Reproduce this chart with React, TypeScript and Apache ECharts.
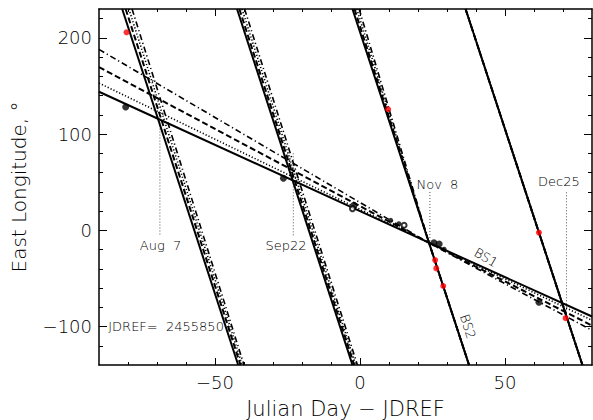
import React, { useEffect, useRef } from "react";
import * as echarts from "echarts";

// Axis extents and tick positions
const X_MIN = -90;
const X_MAX = 80;
const Y_MIN = -140;
const Y_MAX = 230;
const xMajorTicks = [-50, 0, 50];
const xMinorTicks = [-80, -70, -60, -40, -30, -20, -10, 10, 20, 30, 40, 60, 70];
const yMajorTicks = [-100, 0, 100, 200];
const yMinorTicks = [-120, -80, -60, -40, -20, 20, 40, 60, 80, 120, 140, 160, 180, 220];

// BS1: slow drifting tracks, one per fit
const bs1Solid = [[-90, 144], [23.2, -12.1], [80, -89.6]];
const bs1Dotted = [[-90, 153], [23.2, -12.1], [80, -93.5]];
const bs1Dashed = [[-90, 169.6], [23.2, -12.1], [80, -99]];
const bs1DashDot = [[-90, 188], [23.2, -12.1], [80, -104]];

// BS2: fast tracks, wrapping every 360 degrees of longitude
const bs2Solid = [
  [[-82.0, 230], [-42.0, -140]],
  [[-42.4, 230], [-2.6, -140]],
  [[-2.6, 230], [23.7, -12.1], [37.6, -140]],
  [[36.4, 230], [76.7, -140]],
];
const bs2Dashed = [
  [[-80.8, 230], [-41.2, -140]],
  [[-41.6, 230], [-2.0, -140]],
  [[-1.9, 230], [23.7, -12.1], [37.6, -140]],
  [[36.4, 230], [76.7, -140]],
];
const bs2Dotted = [
  [[-79.7, 230], [-40.6, -140]],
  [[-40.7, 230], [-1.5, -140]],
  [[-1.1, 230], [23.7, -12.1], [37.6, -140]],
  [[36.4, 230], [76.7, -140]],
];
const bs2DashDot = [
  [[-78.6, 230], [-40.0, -140]],
  [[-39.8, 230], [-0.9, -140]],
  [[-0.3, 230], [23.7, -12.1], [37.6, -140]],
  [[36.4, 230], [76.7, -140]],
];

// Observed positions
const blackDots = [[-80.8, 128.2], [-26.4, 54.1], [-2.1, 25.9], [25.5, -12.9], [27.3, -14.3], [61.7, -74.8]];
const smallBlackDots = [[10.6, 10.3], [13.4, 6.9], [29.0, -19.6]];
const openCircles = [[-2.6, 22.4], [15.2, 5.2]];
const redDots = [[-80.5, 205.8], [9.7, 125.8], [25.9, -31], [26.3, -39.6], [28.7, -57.9], [61.7, -2.4], [70.9, -91.3]];

// Date markers
const dateNames = ["Aug\u00a0\u00a07", "Sep22", "Nov\u00a0\u00a08", "Dec25"];
const dateDays = [-69.0, -23.0, 24.1, 71.2];
const dateLineTop = [112, 80, 39.8, 39.5];
const dateLineBottom = [-5, -6, -11, -90];
const dateLabelX = [-68.8, -25.5, 26.7, 68.6];
const dateLabelY = [-16.3, -16.3, 47.6, 50.2];

// Free text notes
const noteTexts = ["BS1", "BS2", "JDREF=\u00a0\u00a02455850"];
const notePos = [[43.4, -28.3], [37.2, -100], [-86.8, -99.5]];
const noteRotate = [-30, -72, 0];
const noteAlign = ["center", "center", "left"];

const FONT = '"DejaVu Sans", "Liberation Sans", sans-serif';
const WEIGHT = 200;

const STYLES: Record<string, any> = {
  solid: { type: "solid", width: 2 },
  dashed: { type: [6, 3], width: 2 },
  dotted: { type: [1.2, 2], width: 1.6 },
  dashdot: { type: [6, 3, 1.2, 3], width: 1.6 },
};

const fmt = (v: number) => String(v).replace("-", "\u2212");

function lineSeries(name: string, data: number[][], style: any) {
  return {
    name,
    type: "line",
    data,
    symbol: "none",
    silent: true,
    clip: true,
    lineStyle: { color: "#000", ...style },
    z: 2,
  };
}

export default function App() {
  const ref = useRef<HTMLDivElement>(null);

  useEffect(() => {
    if (!ref.current) return;
    const chart = echarts.init(ref.current, undefined, { renderer: "svg" });

    const series: any[] = [];
    series.push(lineSeries("BS1 solid", bs1Solid, STYLES.solid));
    series.push(lineSeries("BS1 dotted", bs1Dotted, STYLES.dotted));
    series.push(lineSeries("BS1 dashed", bs1Dashed, STYLES.dashed));
    series.push(lineSeries("BS1 dash-dot", bs1DashDot, STYLES.dashdot));
    bs2Solid.forEach((d, i) => series.push(lineSeries("BS2 solid " + i, d, STYLES.solid)));
    bs2Dashed.forEach((d, i) => series.push(lineSeries("BS2 dashed " + i, d, STYLES.dashed)));
    bs2Dotted.forEach((d, i) => series.push(lineSeries("BS2 dotted " + i, d, STYLES.dotted)));
    bs2DashDot.forEach((d, i) => series.push(lineSeries("BS2 dash-dot " + i, d, STYLES.dashdot)));

    dateDays.forEach((day, i) => {
      series.push({
        name: "date " + i,
        type: "line",
        data: [[day, dateLineTop[i]], [day, dateLineBottom[i]]],
        symbol: "none",
        silent: true,
        lineStyle: { color: "#555", width: 1, type: [1, 2] },
        z: 1,
      });
    });

    series.push({
      name: "black",
      type: "scatter",
      data: blackDots,
      symbol: "circle",
      symbolSize: 7,
      itemStyle: { color: "#000" },
      z: 5,
    });
    series.push({
      name: "black small",
      type: "scatter",
      data: smallBlackDots,
      symbol: "circle",
      symbolSize: 5,
      itemStyle: { color: "#000" },
      z: 5,
    });
    series.push({
      name: "open",
      type: "scatter",
      data: openCircles,
      symbol: "emptyCircle",
      symbolSize: 5,
      itemStyle: { color: "#000", borderColor: "#000", borderWidth: 1 },
      z: 5,
    });
    series.push({
      name: "red",
      type: "scatter",
      data: redDots,
      symbol: "circle",
      symbolSize: 6,
      itemStyle: { color: "#ff0000" },
      z: 6,
    });

    const axisText = { color: "#000", fontFamily: FONT, fontSize: 18, fontWeight: WEIGHT };
    const nameText = { color: "#000", fontFamily: FONT, fontSize: 20, fontWeight: WEIGHT };
    const frame = { show: true, onZero: false, lineStyle: { color: "#000", width: 1.5 } };
    const noLine = { show: false, onZero: false };

    const xBase = { type: "value", min: X_MIN, max: X_MAX, splitLine: { show: false } };
    const yBase = { type: "value", min: Y_MIN, max: Y_MAX, splitLine: { show: false } };

    const option: any = {
      animation: false,
      backgroundColor: "#fff",
      grid: { left: 99, top: 9, width: 493, height: 356, containLabel: false, outerBoundsMode: "none" },
      xAxis: [
        {
          ...xBase,
          position: "bottom",
          axisLine: frame,
          axisTick: { show: true, inside: true, length: 7, customValues: xMajorTicks, lineStyle: { color: "#000", width: 1 } },
          axisLabel: { show: true, customValues: xMajorTicks, formatter: fmt, margin: 8, ...axisText },
          name: "Julian Day \u2212 JDREF",
          nameLocation: "middle",
          nameGap: 33,
          nameTextStyle: { ...nameText, fontSize: 21 },
        },
        {
          ...xBase,
          position: "bottom",
          axisLine: noLine,
          axisTick: { show: true, inside: true, length: 3, customValues: xMinorTicks, lineStyle: { color: "#000", width: 1 } },
          axisLabel: { show: false },
        },
        {
          ...xBase,
          position: "top",
          axisLine: frame,
          axisTick: { show: true, inside: true, length: 7, customValues: xMajorTicks, lineStyle: { color: "#000", width: 1 } },
          axisLabel: { show: false },
        },
        {
          ...xBase,
          position: "top",
          axisLine: noLine,
          axisTick: { show: true, inside: true, length: 3, customValues: xMinorTicks, lineStyle: { color: "#000", width: 1 } },
          axisLabel: { show: false },
        },
      ],
      yAxis: [
        {
          ...yBase,
          position: "left",
          axisLine: frame,
          axisTick: { show: true, inside: true, length: 8, customValues: yMajorTicks, lineStyle: { color: "#000", width: 1 } },
          axisLabel: { show: true, customValues: yMajorTicks, formatter: fmt, margin: 7, ...axisText },
          name: "East Longitude, \u00b0",
          nameLocation: "middle",
          nameGap: 70,
          nameTextStyle: nameText,
        },
        {
          ...yBase,
          position: "left",
          axisLine: noLine,
          axisTick: { show: true, inside: true, length: 4, customValues: yMinorTicks, lineStyle: { color: "#000", width: 1 } },
          axisLabel: { show: false },
        },
        {
          ...yBase,
          position: "right",
          axisLine: frame,
          axisTick: { show: true, inside: true, length: 8, customValues: yMajorTicks, lineStyle: { color: "#000", width: 1 } },
          axisLabel: { show: false },
        },
        {
          ...yBase,
          position: "right",
          axisLine: noLine,
          axisTick: { show: true, inside: true, length: 4, customValues: yMinorTicks, lineStyle: { color: "#000", width: 1 } },
          axisLabel: { show: false },
        },
      ],
      series,
    };

    chart.setOption(option);

    const toPx = (p: number[]) => chart.convertToPixel({ seriesIndex: 0 }, p) as number[];
    const graphic: any[] = [];
    dateNames.forEach((t, i) => {
      const [px, py] = toPx([dateLabelX[i], dateLabelY[i]]);
      graphic.push({
        type: "text",
        x: px,
        y: py,
        silent: true,
        z: 10,
        style: { text: t, fill: "#000", font: `${WEIGHT} 13px ${FONT}`, align: "center", verticalAlign: "middle" },
      });
    });
    noteTexts.forEach((t, i) => {
      const [px, py] = toPx(notePos[i]);
      graphic.push({
        type: "text",
        x: px,
        y: py,
        rotation: (noteRotate[i] * Math.PI) / 180,
        silent: true,
        z: 10,
        style: { text: t, fill: "#000", font: `${WEIGHT} 13px ${FONT}`, align: noteAlign[i], verticalAlign: "middle" },
      });
    });
    chart.setOption({ graphic });

    return () => chart.dispose();
  }, []);

  return (
    <div
      ref={ref}
      style={{ position: "absolute", left: 0, top: 0, width: 593, height: 420, background: "#fff" }}
    />
  );
}
